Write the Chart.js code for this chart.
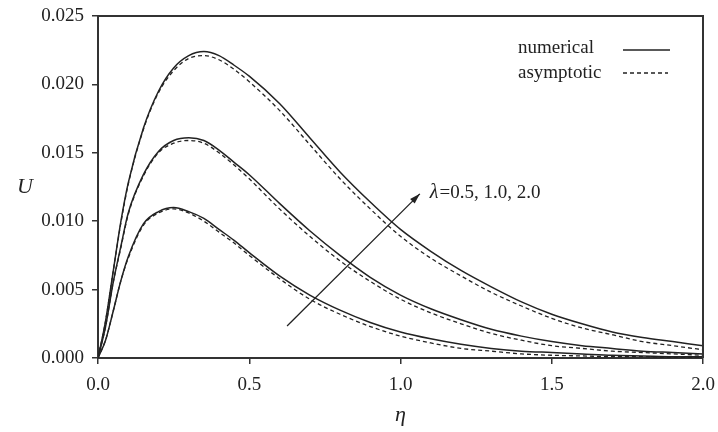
<!DOCTYPE html>
<html>
<head>
<meta charset="utf-8">
<script src="https://cdn.jsdelivr.net/npm/chart.js@4"></script>
<style>
  body { margin: 0; background: #fff; }
  canvas { display: block; }
</style>
</head>
<body>
<canvas id="chart" width="718" height="432"></canvas>
<script>
// eta positions shared by all curves
const eta = [0, 0.025, 0.05, 0.075, 0.1, 0.15, 0.2, 0.25, 0.3, 0.35, 0.4, 0.45, 0.5,
  0.6, 0.7, 0.8, 0.9, 1.0, 1.1, 1.2, 1.3, 1.4, 1.5, 1.6, 1.7, 1.8, 1.9, 2.0];

// lambda = 2.0
const numLam20 = [0, 0.0027, 0.0063, 0.0099, 0.0128, 0.0168, 0.0195, 0.0212, 0.0221, 0.0224, 0.0221, 0.0214, 0.0206,
  0.0186, 0.0161, 0.0136, 0.0114, 0.0094, 0.0078, 0.0064, 0.0052, 0.0041, 0.0032, 0.0025, 0.0019, 0.0015, 0.0012, 0.0009];
const asyLam20 = [0, 0.0027, 0.0063, 0.0098, 0.0127, 0.0167, 0.0194, 0.0210, 0.0219, 0.0221, 0.0218, 0.0211, 0.0202,
  0.0181, 0.0156, 0.0131, 0.0109, 0.0089, 0.0073, 0.0060, 0.0048, 0.0038, 0.0029, 0.0022, 0.0017, 0.0012, 0.0009, 0.0006];

// lambda = 1.0
const numLam10 = [0, 0.0023, 0.0055, 0.0081, 0.0106, 0.0134, 0.0151, 0.0159, 0.0161, 0.0159, 0.0152, 0.0143, 0.0134,
  0.0113, 0.0093, 0.0075, 0.0059, 0.0046, 0.0036, 0.0028, 0.0021, 0.0016, 0.0012, 0.0009, 0.0007, 0.0005, 0.0004, 0.0003];
const asyLam10 = [0, 0.0023, 0.0055, 0.0080, 0.0105, 0.0133, 0.0150, 0.0157, 0.0159, 0.0157, 0.0150, 0.0141, 0.0131,
  0.0109, 0.0089, 0.0071, 0.0056, 0.0043, 0.0033, 0.0025, 0.0018, 0.0013, 0.0009, 0.0007, 0.0005, 0.0004, 0.0003, 0.0002];

// lambda = 0.5
const numLam05 = [0, 0.0013, 0.0034, 0.0056, 0.0074, 0.0098, 0.0107, 0.0110, 0.0107, 0.0102, 0.0094, 0.0086, 0.0077,
  0.0060, 0.0046, 0.0035, 0.0026, 0.0019, 0.0014, 0.0010, 0.0007, 0.0005, 0.0004, 0.0003, 0.0002, 0.00015, 0.0001, 0.0001];
const asyLam05 = [0, 0.0013, 0.0034, 0.0056, 0.0073, 0.0097, 0.0106, 0.0109, 0.0106, 0.0100, 0.0092, 0.0084, 0.0075,
  0.0058, 0.0043, 0.0032, 0.0023, 0.0016, 0.0011, 0.0007, 0.0005, 0.0003, 0.0002, 0.00015, 0.0001, 0.0001, 0.00005, 0.00005];

const xTicks = [0, 0.5, 1.0, 1.5, 2.0];
const yTicks = [0, 0.005, 0.010, 0.015, 0.020, 0.025];

// arrow for the lambda annotation, in data units
const arrowFrom = [0.625, 0.00234];
const arrowTo = [1.064, 0.0120];
const lambdaText = '=0.5, 1.0, 2.0';

const ink = '#222';
const serif = "'Liberation Serif', 'DejaVu Serif', serif";

const pts = (ys) => eta.map((x, i) => ({ x: x, y: ys[i] }));

const lineSet = (label, ys, dashed) => ({
  label: label,
  data: pts(ys),
  borderColor: ink,
  borderWidth: dashed ? 1.3 : 1.5,
  borderDash: dashed ? [4, 3] : [],
  pointRadius: 0,
  fill: false,
  cubicInterpolationMode: 'monotone',
});

const extras = {
  id: 'extras',
  afterDraw(chart) {
    const ctx = chart.ctx;
    const a = chart.chartArea;
    const sx = chart.scales.x;
    const sy = chart.scales.y;
    ctx.save();

    // top and right frame
    ctx.strokeStyle = '#333';
    ctx.lineWidth = 2;
    ctx.beginPath();
    ctx.moveTo(a.left, a.top);
    ctx.lineTo(a.right, a.top);
    ctx.lineTo(a.right, a.bottom);
    ctx.stroke();

    // axis titles
    ctx.fillStyle = ink;
    ctx.font = 'italic 22px ' + serif;
    ctx.textAlign = 'center';
    ctx.textBaseline = 'middle';
    ctx.fillText('\u03b7', (a.left + a.right) / 2, 415);
    ctx.fillText('U', 25, 187);

    // legend
    ctx.font = '19px ' + serif;
    ctx.textAlign = 'left';
    ctx.fillText('numerical', 518, 48);
    ctx.fillText('asymptotic', 518, 73);
    ctx.strokeStyle = ink;
    ctx.lineWidth = 1.5;
    ctx.beginPath();
    ctx.moveTo(623, 50);
    ctx.lineTo(670, 50);
    ctx.stroke();
    ctx.lineWidth = 1.3;
    ctx.setLineDash([4, 3]);
    ctx.beginPath();
    ctx.moveTo(623, 73);
    ctx.lineTo(668, 73);
    ctx.stroke();
    ctx.setLineDash([]);

    // lambda arrow
    const x0 = sx.getPixelForValue(arrowFrom[0]);
    const y0 = sy.getPixelForValue(arrowFrom[1]);
    const x1 = sx.getPixelForValue(arrowTo[0]);
    const y1 = sy.getPixelForValue(arrowTo[1]);
    const ang = Math.atan2(y1 - y0, x1 - x0);
    ctx.lineWidth = 1.3;
    ctx.beginPath();
    ctx.moveTo(x0, y0);
    ctx.lineTo(x1, y1);
    ctx.stroke();
    ctx.beginPath();
    ctx.moveTo(x1, y1);
    ctx.lineTo(x1 - 11 * Math.cos(ang - 0.3), y1 - 11 * Math.sin(ang - 0.3));
    ctx.lineTo(x1 - 11 * Math.cos(ang + 0.3), y1 - 11 * Math.sin(ang + 0.3));
    ctx.closePath();
    ctx.fill();

    ctx.textBaseline = 'middle';
    ctx.font = 'italic 20px ' + serif;
    const tx = x1 + 10;
    const ty = y1 - 1;
    ctx.fillText('\u03bb', tx, ty);
    const lw = ctx.measureText('\u03bb').width;
    ctx.font = '19px ' + serif;
    ctx.fillText(lambdaText, tx + lw + 1, ty);

    ctx.restore();
  }
};

new Chart(document.getElementById('chart'), {
  type: 'line',
  data: {
    datasets: [
      lineSet('numerical 2.0', numLam20, false),
      lineSet('asymptotic 2.0', asyLam20, true),
      lineSet('numerical 1.0', numLam10, false),
      lineSet('asymptotic 1.0', asyLam10, true),
      lineSet('numerical 0.5', numLam05, false),
      lineSet('asymptotic 0.5', asyLam05, true),
    ],
  },
  options: {
    responsive: false,
    animation: false,
    devicePixelRatio: 1,
    layout: { padding: { left: 0, top: 16, right: 15, bottom: 0 } },
    plugins: {
      legend: { display: false },
      tooltip: { enabled: false },
    },
    scales: {
      x: {
        type: 'linear',
        min: 0,
        max: 2,
        afterBuildTicks: (s) => { s.ticks = xTicks.map((v) => ({ value: v })); },
        afterFit: (s) => { s.height = 74; s.paddingLeft = 0; s.paddingRight = 0; },
        ticks: {
          callback: (v) => v.toFixed(1),
          font: { family: serif, size: 19 },
          color: ink,
          padding: 10,
          maxRotation: 0,
        },
        grid: { drawOnChartArea: false, tickLength: 6, color: '#333', lineWidth: 1.5 },
        border: { color: '#333', width: 2 },
      },
      y: {
        min: 0,
        max: 0.025,
        afterBuildTicks: (s) => { s.ticks = yTicks.map((v) => ({ value: v })); },
        afterFit: (s) => { s.width = 98; s.paddingTop = 0; s.paddingBottom = 0; },
        ticks: {
          callback: (v) => v.toFixed(3),
          font: { family: serif, size: 19 },
          color: ink,
          padding: 8,
        },
        grid: { drawOnChartArea: false, tickLength: 6, color: '#333', lineWidth: 1.5 },
        border: { color: '#333', width: 2 },
      },
    },
  },
  plugins: [extras],
});
</script>
</body>
</html>
